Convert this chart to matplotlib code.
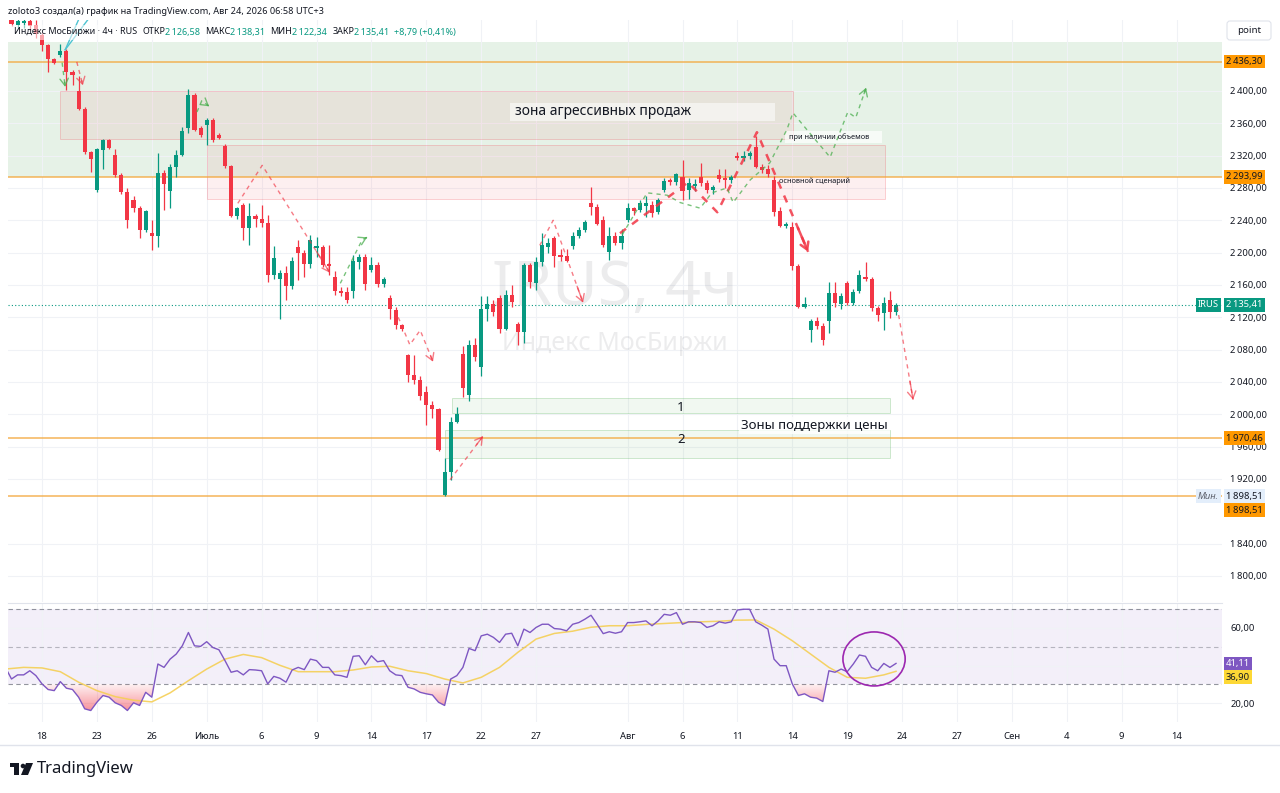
"""IRUS 4h chart with support/resistance zones and an RSI pane (TradingView look)."""

import numpy as np
import matplotlib
matplotlib.use("Agg")
import matplotlib.pyplot as plt
from matplotlib.patches import Rectangle, Ellipse, PathPatch, FancyBboxPatch, Polygon, Circle
from matplotlib.path import Path
from matplotlib.ticker import FuncFormatter

plt.rcParams["font.family"] = ["Noto Sans", "DejaVu Sans"]

# bar index 0 = first 4h bar of Jun 18, three bars per trading day
first_bar = -5
opens = [2492, 2482, 2484, 2487, 2482,
         2469, 2457, 2439, 2445, 2449, 2424, 2400, 2378, 2324, 2278,
         2327, 2339, 2321, 2296, 2275, 2265, 2255, 2228, 2224, 2221,
         2299, 2276, 2306, 2321, 2354, 2395, 2354, 2358, 2364, 2346,
         2332, 2307, 2245, 2259, 2230, 2245, 2242, 2237, 2172, 2168,
         2175, 2159, 2207, 2200, 2186, 2206, 2207, 2186, 2170, 2152,
         2151, 2152, 2189, 2195, 2179, 2185, 2161, 2144, 2129, 2110,
         2073, 2049, 2043, 2027, 2012, 2006, 1900, 1929, 1991, 2075,
         2024, 2086, 2059, 2130, 2137, 2144, 2106, 2148, 2112, 2102,
         2185, 2163, 2188, 2207, 2218, 2197, 2196, 2208, 2220, 2228,
         2261, 2257, 2240, 2201, 2221, 2212, 2240, 2255, 2253, 2258,
         2259, 2250, 2278, 2290, 2287, 2294, 2277, 2282, 2294, 2286,
         2277, 2296, 2292, 2290, 2320, 2317, 2320, 2331, 2306, 2303,
         2290, 2252, 2233, 2232, 2184, 2133, 2104, 2116, 2109, 2116,
         2150, 2137, 2162, 2138, 2152, 2170, 2168, 2131, 2125, 2141,
         2126.58]
highs = [2498, 2490, 2492, 2494, 2488,
         2472, 2458, 2441, 2458, 2452, 2426, 2418, 2380, 2326, 2330,
         2341, 2341, 2328, 2298, 2280, 2270, 2258, 2253, 2240, 2323,
         2302, 2310, 2327, 2356, 2402, 2398, 2357, 2367, 2366, 2348,
         2334, 2309, 2257, 2262, 2261, 2248, 2259, 2247, 2208, 2178,
         2183, 2195, 2216, 2203, 2222, 2219, 2210, 2210, 2177, 2158,
         2158, 2197, 2198, 2198, 2195, 2188, 2170, 2147, 2133, 2112,
         2075, 2073, 2048, 2035, 2016, 2008, 1946, 1997, 2009, 2084,
         2092, 2094, 2146, 2146, 2142, 2147, 2154, 2160, 2114, 2187,
         2187, 2195, 2224, 2218, 2220, 2205, 2205, 2225, 2232, 2240,
         2281, 2260, 2245, 2232, 2226, 2229, 2261, 2257, 2265, 2270,
         2264, 2268, 2292, 2292, 2299, 2315, 2292, 2291, 2311, 2290,
         2284, 2304, 2304, 2296, 2325, 2326, 2326, 2344, 2310, 2308,
         2295, 2256, 2238, 2238, 2186, 2145, 2118, 2120, 2113, 2164,
         2164, 2150, 2165, 2155, 2178, 2189, 2170, 2134, 2145, 2153,
         2138.31]
lows = [2480, 2478, 2478, 2475, 2466,
        2449, 2423, 2433, 2442, 2401, 2407, 2377, 2322, 2300, 2275,
        2303, 2328, 2293, 2272, 2230, 2250, 2218, 2226, 2203, 2207,
        2253, 2255, 2294, 2319, 2348, 2350, 2343, 2333, 2337, 2340,
        2305, 2244, 2242, 2216, 2209, 2232, 2232, 2164, 2168, 2118,
        2141, 2155, 2166, 2170, 2181, 2195, 2182, 2172, 2148, 2146,
        2138, 2144, 2180, 2154, 2176, 2158, 2158, 2118, 2106, 2103,
        2040, 2038, 2018, 1987, 1995, 1955, 1898.51, 1919, 1989, 2022,
        2016, 2066, 2047, 2115, 2122, 2100, 2104, 2133, 2086, 2088,
        2156, 2154, 2184, 2200, 2182, 2190, 2188, 2204, 2218, 2225,
        2247, 2234, 2207, 2191, 2209, 2205, 2238, 2246, 2250, 2244,
        2244, 2248, 2275, 2284, 2284, 2265, 2266, 2276, 2283, 2274,
        2272, 2288, 2280, 2286, 2314, 2313, 2316, 2305, 2298, 2293,
        2245, 2232, 2230, 2178, 2131, 2131, 2090, 2106, 2086, 2100,
        2133, 2130, 2135, 2135, 2150, 2165, 2128, 2115, 2104, 2119,
        2122.34]
closes = [2483, 2486, 2487, 2480, 2470,
          2457, 2439, 2435, 2449, 2424, 2420, 2378, 2325, 2316, 2328,
          2339, 2330, 2296, 2275, 2240, 2255, 2228, 2251, 2221, 2299,
          2285, 2306, 2321, 2350, 2395, 2352, 2346, 2364, 2339, 2342,
          2307, 2245, 2255, 2230, 2245, 2242, 2237, 2172, 2193, 2175,
          2159, 2190, 2200, 2186, 2216, 2208, 2185, 2183, 2152, 2150,
          2141, 2190, 2195, 2161, 2185, 2161, 2168, 2130, 2110, 2106,
          2049, 2043, 2023, 2012, 2006, 1956, 1929, 1991, 2000, 2032,
          2086, 2071, 2130, 2137, 2126, 2106, 2148, 2139, 2102, 2185,
          2164, 2188, 2209, 2212, 2196, 2195, 2190, 2221, 2228, 2238,
          2256, 2236, 2209, 2221, 2212, 2221, 2255, 2251, 2262, 2262,
          2249, 2265, 2289, 2288, 2297, 2276, 2286, 2285, 2286, 2277,
          2281, 2291, 2290, 2293, 2317, 2320, 2323, 2306, 2302, 2297,
          2250, 2233, 2236, 2184, 2133, 2136, 2116, 2109, 2092, 2150,
          2138, 2146, 2138, 2151, 2172, 2168, 2131, 2123, 2138, 2126,
          2135.41]

# RSI(14) read per bar, starting one bar earlier than the candles
rsi_first_bar = -6
rsi = [39.0, 32.8, 35.0, 35.0, 37.2, 34.6,
       30.2, 27.2, 26.6, 31.4, 27.9, 27.2, 23.1, 16.9, 16.0, 20.4,
       24.0, 23.1, 20.1, 18.7, 16.0, 20.1, 18.7, 25.7, 23.1, 40.8,
       39.0, 43.4, 46.1, 50.5, 57.6, 50.5, 50.2, 52.7, 49.6, 48.4,
       42.6, 36.4, 37.2, 35.0, 37.8, 37.6, 37.2, 30.2, 34.2, 33.2,
       31.1, 37.6, 39.0, 37.8, 43.4, 42.6, 39.0, 39.0, 35.0, 34.6,
       33.7, 44.9, 45.2, 40.4, 45.2, 42.0, 42.6, 37.2, 35.0, 34.6,
       28.4, 27.5, 25.7, 24.9, 24.3, 20.4, 18.7, 32.8, 34.6, 39.0,
       49.1, 47.9, 55.8, 56.7, 55.0, 52.3, 56.7, 57.2, 50.5, 59.4,
       57.6, 60.3, 62.0, 62.0, 59.7, 59.4, 58.5, 62.0, 62.9, 64.7,
       66.8, 62.0, 57.0, 58.0, 57.2, 58.0, 62.9, 62.9, 63.3, 63.8,
       61.2, 63.8, 67.3, 66.8, 68.2, 62.0, 63.3, 63.3, 62.9, 60.3,
       61.2, 63.3, 62.6, 63.3, 69.6, 70.0, 70.0, 63.3, 61.5, 59.4,
       43.4, 39.9, 39.9, 30.2, 24.0, 24.9, 23.1, 22.6, 20.8, 37.2,
       36.4, 38.1, 36.7, 40.8, 45.6, 44.9, 39.0, 37.2, 41.1, 39.0,
       41.11]
# RSI-based moving average, read every third bar
ma_bars = [-6, -3, 0, 3, 6, 9, 12, 15, 18, 21, 24, 27, 30, 33, 36, 39, 42, 45,
           48, 51, 54, 57, 60, 63, 66, 69, 72, 75, 78, 81, 84, 87, 90, 93, 96,
           99, 102, 105, 108, 111, 114, 117, 120, 123, 126, 129, 132, 135, 138, 140]
ma_vals = [38.1, 39.0, 38.7, 36.7, 31.1, 26.6, 23.4, 21.5, 20.6, 25.4, 31.9, 38.1,
           43.4, 45.9, 44.2, 40.1, 36.7, 36.7, 36.7, 37.6, 39.2, 39.6, 37.2, 35.7,
           32.8, 30.7, 33.7, 39.0, 47.0, 54.1, 57.1, 58.3, 60.4, 61.2, 61.2, 61.9,
           62.4, 62.9, 63.3, 63.6, 64.2, 64.3, 59.4, 53.2, 46.1, 39.0, 33.7, 33.2,
           35.0, 36.9]

tick_bars = [0, 9, 18, 27, 36, 45, 54, 63, 72, 81, 96, 105, 114, 123, 132, 141,
             150, 159, 168, 177, 186]
tick_labels = ["18", "23", "26", "Июль", "6", "9", "14", "17", "22", "27", "Авг",
               "6", "11", "14", "19", "24", "27", "Сен", "4", "9", "14"]
month_labels = ["Июль", "Авг", "Сен"]
price_ticks = [1800, 1840, 1920, 1960, 2000, 2040, 2080, 2120, 2160, 2200,
               2240, 2280, 2320, 2360, 2400]

levels = [2436.30, 2293.99, 1970.46, 1898.51]
last_price = 2135.41
low_price = 1898.51
rsi_last, ma_last = 41.11, 36.90

# drawings (bar, price)
buy_zone = (2293.99, 2460.6)
sell_zone = ((2.95, 2340.6), (123.1, 2400.0))
sell_zone2 = ((27.0, 2266.4), (138.2, 2333.2))
support1 = ((67.2, 2001.7), (139.0, 2020.2))
support2 = ((66.1, 1946.0), (139.0, 1980.6))
teal_lines = [[(3.8, 2451), (6.4, 2495)], [(3.8, 2451), (8.2, 2495)]]
red_paths = [[(5.7, 2436), (6.7, 2407)],
             [(32.1, 2261), (36.1, 2308), (47.2, 2175)],
             [(58.4, 2120), (60.3, 2086), (62.0, 2104), (64.1, 2065)],
             [(66.9, 1919), (72.3, 1973)],
             [(81.6, 2209), (83.8, 2240), (88.7, 2138)],
             [(140.2, 2133), (142.8, 2018)]]
red_main = [(94.75, 2224), (105.9, 2287), (110.7, 2250), (117.2, 2349), (125.6, 2201)]
green_paths = [[(3.3, 2435), (3.8, 2405)],
               [(25.4, 2374), (26.2, 2388), (27.4, 2381)],
               [(48.9, 2162), (52.5, 2216), (53.3, 2219)],
               [(95.1, 2222), (99.2, 2274), (102.5, 2271), (104.6, 2262), (107.9, 2255),
                (109.8, 2274), (112.3, 2280), (113.3, 2262), (116.1, 2290), (119.3, 2311),
                (122.1, 2352), (123.1, 2373), (125.4, 2352), (129.2, 2318), (132.1, 2374),
                (133.4, 2367), (135.1, 2404)]]

UP, DOWN = "#089981", "#f23645"
TXT = "#131722"
W, H = 1280, 793


def fx(px):
    return px / W


def fy(py):
    return 1 - py / H


def fmt_num(v, pos=None):
    return f"{v:,.2f}".replace(",", "\u2009").replace(".", ",")


def draw_path(axis, pts, color, lw, dash, alpha=0.8):
    xs, ys = zip(*pts)
    axis.plot(xs, ys, color=color, lw=lw, ls=(0, dash), alpha=alpha, zorder=6)
    (x0, y0), (x1, y1) = pts[-2], pts[-1]
    axis.annotate("", xy=(x1, y1), xytext=(x1 - 0.2 * (x1 - x0), y1 - 0.2 * (y1 - y0)),
                  arrowprops=dict(arrowstyle="->,head_length=0.5,head_width=0.3",
                                  color=color, lw=lw, alpha=alpha, shrinkA=0, shrinkB=0),
                  zorder=6)


def side_label(axis, y, text, fc, tc, dx=4, dy=0, ha="left", **kw):
    axis.annotate(text, xy=(1, y), xycoords=axis.get_yaxis_transform(),
                  xytext=(dx, -dy), textcoords="offset pixels", ha=ha, va="center",
                  fontsize=6.8, color=tc, annotation_clip=False, zorder=20,
                  bbox=dict(boxstyle="square,pad=0.25", fc=fc, ec="none"), **kw)


fig = plt.figure(figsize=(12.8, 7.93), dpi=100)
fig.patch.set_facecolor("white")
ax = fig.add_axes([fx(8), fy(602), fx(1222) - fx(8), fy(20) - fy(602)])
ax_rsi = fig.add_axes([fx(8), fy(722), fx(1222) - fx(8), fy(603) - fy(722)], sharex=ax)

# ---- price pane
bars = np.arange(first_bar, first_bar + len(opens))
o, h, l, c = (np.array(a, dtype=float) for a in (opens, highs, lows, closes))
cols = np.where(c >= o, UP, DOWN)

ax.axhspan(*buy_zone, color="#e6f2e7", lw=0, zorder=0)
for (x0, y0), (x1, y1) in (sell_zone, sell_zone2):
    ax.add_patch(Rectangle((x0, y0), x1 - x0, y1 - y0, fc=(0.95, 0.21, 0.27, 0.08),
                           ec=(0.95, 0.21, 0.27, 0.25), lw=0.6, zorder=1))
for (x0, y0), (x1, y1) in (support1, support2):
    ax.add_patch(Rectangle((x0, y0), x1 - x0, y1 - y0, fc=(0.3, 0.69, 0.31, 0.08),
                           ec=(0.3, 0.69, 0.31, 0.3), lw=0.6, zorder=1))

ax.text(93.9, 2155, "IRUS, 4ч", fontsize=45, color=TXT, alpha=0.08,
        ha="center", va="center", zorder=1)
ax.text(93.9, 2088, "Индекс МосБиржи", fontsize=18, color=TXT, alpha=0.08,
        ha="center", va="center", zorder=1)

for lv in levels:
    ax.axhline(lv, color="#f3a73c", lw=1.1, alpha=0.85, zorder=2)
ax.axhline(last_price, color=UP, lw=0.8, ls=(0, (1, 2)), zorder=2)

ax.vlines(bars, l, h, colors=cols, lw=0.9, zorder=3)
ax.bar(bars, np.maximum(np.abs(c - o), 0.9), bottom=np.minimum(o, c), width=0.66,
       color=cols, lw=0, zorder=4)

for pts in teal_lines:
    xs, ys = zip(*pts)
    ax.plot(xs, ys, color="#4dc3d1", lw=1.0, zorder=6)
for pts in red_paths:
    draw_path(ax, pts, DOWN, 1.0, (3, 3), alpha=0.65)
draw_path(ax, red_main, DOWN, 1.8, (3, 3), alpha=0.85)
for pts in green_paths:
    draw_path(ax, pts, "#4caf50", 1.0, (3, 3), alpha=0.75)

ax.add_patch(Rectangle((76.7, 2362.9), 43.5, 22.3, fc="white", alpha=0.55, lw=0, zorder=5))
ax.text(77.5, 2374, "зона агрессивных продаж", fontsize=10, color=TXT, va="center", zorder=7)
ax.add_patch(Rectangle((121.8, 2335.7), 15.9, 14.8, fc="white", alpha=0.7, lw=0, zorder=5))
ax.text(122.5, 2343, "при наличии объемов", fontsize=5.3, color=TXT, va="center", zorder=7)
ax.text(120.8, 2288.7, "основной сценарий", fontsize=5.3, color=TXT, va="center", zorder=7)
ax.text(104.1, 2009, "1", fontsize=9.5, color=TXT, va="center", zorder=7)
ax.text(104.1, 1968.3, "2", fontsize=9.5, color=TXT, va="center", zorder=7)
ax.text(114.6, 1985.6, "Зоны поддержки цены", fontsize=9.5, color=TXT, va="center", zorder=7,
        bbox=dict(boxstyle="square,pad=0.15", fc="white", ec="none", alpha=0.8))

ax.set_ylim(1767.8, 2487.8)
ax.set_yticks(price_ticks)
ax.yaxis.set_major_formatter(FuncFormatter(fmt_num))
ax.yaxis.tick_right()
ax.tick_params(axis="y", length=0, pad=6, labelsize=6.8, labelcolor=TXT)
ax.tick_params(axis="x", length=0, labelbottom=False)
ax.grid(True, color="#f0f2f6", lw=0.8)
ax.set_axisbelow(True)
for sp in ax.spines.values():
    sp.set_visible(False)

for lv in levels:
    dy = 14 if lv == low_price else 0
    side_label(ax, lv, fmt_num(lv), "#ff9800", TXT, dy=dy)
side_label(ax, low_price, fmt_num(low_price), "#e3eefb", TXT)
side_label(ax, low_price, "Мин.", "#e3eefb", "#5d606b", dx=-3, ha="right", style="italic")
side_label(ax, last_price, fmt_num(last_price), UP, "white")
side_label(ax, last_price, "IRUS", UP, "white", dx=-3, ha="right")

# ---- RSI pane
rb = np.arange(rsi_first_bar, rsi_first_bar + len(rsi))
rv = np.array(rsi)
ax_rsi.axhspan(30, 70, color="#7e57c2", alpha=0.09, lw=0, zorder=0)
for v, a in ((70, 0.8), (50, 0.5), (30, 0.8)):
    ax_rsi.axhline(v, color="#787b86", lw=0.8, ls=(0, (4, 3)), alpha=a, zorder=1)
ax_rsi.axhline(40, color="#f0f2f6", lw=0.8, zorder=0.5)

fb = ax_rsi.fill_between(rb, rv, 30, where=rv < 30, interpolate=True,
                         facecolor="none", edgecolor="none")
clip = PathPatch(Path.make_compound_path(*fb.get_paths()), transform=ax_rsi.transData,
                 fc="none", ec="none")
ax_rsi.add_patch(clip)
grad = np.zeros((64, 2, 4))
grad[..., 0], grad[..., 1], grad[..., 2] = 242 / 255, 54 / 255, 69 / 255
grad[..., 3] = np.linspace(0.05, 0.6, 64)[:, None]
im = ax_rsi.imshow(grad, extent=(rb[0], rb[-1], 14, 30), origin="upper",
                   aspect="auto", zorder=2)
im.set_clip_path(clip)

ax_rsi.plot(ma_bars, ma_vals, color="#f5cf55", lw=1.1, alpha=0.9, zorder=3)
ax_rsi.plot(rb, rv, color="#7e57c2", lw=1.0, zorder=4)
ax_rsi.add_patch(Ellipse((136.4, 43.5), 10.2, 28.8, fill=False, ec="#9c27b0", lw=1.2, zorder=5))

ax_rsi.set_ylim(9.87, 73.33)
ax_rsi.set_yticks([20, 60])
ax_rsi.yaxis.set_major_formatter(FuncFormatter(fmt_num))
ax_rsi.yaxis.tick_right()
ax_rsi.tick_params(axis="y", length=0, pad=6, labelsize=6.8, labelcolor=TXT)
ax_rsi.set_xticks(tick_bars)
ax_rsi.set_xticklabels(tick_labels)
ax_rsi.tick_params(axis="x", length=0, pad=7, labelsize=6.8, labelcolor=TXT)
for t in ax_rsi.get_xticklabels():
    if t.get_text() in month_labels:
        t.set_fontweight("bold")
ax_rsi.grid(True, color="#f0f2f6", lw=0.8)
ax_rsi.set_axisbelow(True)
for name, sp in ax_rsi.spines.items():
    sp.set_visible(name == "top")
ax_rsi.spines["top"].set_color("#e0e3eb")

side_label(ax_rsi, rsi_last, fmt_num(rsi_last), "#7e57c2", "white")
side_label(ax_rsi, ma_last, fmt_num(ma_last), "#fdd835", TXT, dy=6)

ax.set_xlim(-5.574, 193.44)

# ---- chrome: header, legend row, scale button, logo
ov = fig.add_axes([0, 0, 1, 1], zorder=5)
ov.set_xlim(0, W)
ov.set_ylim(H, 0)
ov.axis("off")
ov.patch.set_alpha(0)
ov.text(8, 11, "zoloto3 создал(а) график на TradingView.com, Авг 24, 2026 06:58 UTC+3",
        fontsize=6.6, color=TXT, va="center")
ov.add_patch(Rectangle((10, 25), 452, 15, fc="white", alpha=0.55, lw=0))
legend_parts = [("Индекс МосБиржи · 4ч · RUS", TXT, 5), ("ОТКР", TXT, 0),
                ("2\u2009126,58", UP, 5), ("МАКС", TXT, 0), ("2\u2009138,31", UP, 5),
                ("МИН", TXT, 0), ("2\u2009122,34", UP, 5), ("ЗАКР", TXT, 0),
                ("2\u2009135,41", UP, 5), ("+8,79 (+0,41%)", UP, 0)]
renderer = fig.canvas.get_renderer()
x = 14
for s, col, gap in legend_parts:
    t = ov.text(x, 32, s, fontsize=6.5, color=col, va="center")
    x += t.get_window_extent(renderer).width + gap
ov.add_patch(FancyBboxPatch((1227, 21), 44, 19, boxstyle="round,pad=0,rounding_size=3",
                            fc="white", ec="#e0e3eb", lw=0.8))
ov.text(1249, 30.5, "point", fontsize=7, color=TXT, ha="center", va="center")
ov.plot([0, W], [745, 745], color="#e0e3eb", lw=1)
ov.add_patch(Rectangle((10, 763), 9, 4, fc=TXT, lw=0))
ov.add_patch(Rectangle((14, 763), 5, 12, fc=TXT, lw=0))
ov.add_patch(Circle((23, 766), 2.3, fc=TXT, lw=0))
ov.add_patch(Polygon([(26, 763), (33, 763), (28, 775), (21, 775)], fc=TXT, lw=0))
ov.text(37, 769, "TradingView", fontsize=12, fontweight="bold", color=TXT, va="center")

fig.savefig("out.png", dpi=100, facecolor="white")
